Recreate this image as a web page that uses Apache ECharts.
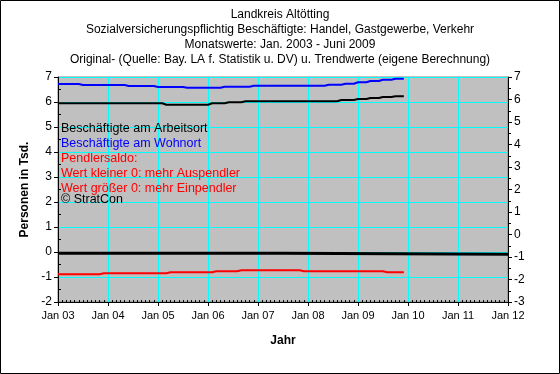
<!DOCTYPE html>
<html>
<head>
<meta charset="utf-8">
<script src="https://cdn.jsdelivr.net/npm/echarts@6/dist/echarts.min.js"></script>
<style>
html,body{margin:0;padding:0;background:#fff;}
#c{width:560px;height:374px;}
</style>
</head>
<body>
<div id="c"></div>
<script>
// Months: Jan 2003 .. Dec 2009 (84 monthly values), x in decimal years
const startYear = 2003;
const yearTicks = [2003, 2004, 2005, 2006, 2007, 2008, 2009, 2010, 2011, 2012];

// Beschäftigte am Wohnort (Tsd.)
const wohnort = [
  6.72,6.72,6.72,6.72,6.72,6.72,
  6.68,6.68,6.68,6.68,6.68,6.68,6.68,6.68,6.68,6.68,6.68,
  6.64,6.64,6.64,6.64,6.64,6.64,6.64,
  6.60,6.60,6.60,6.60,6.60,6.60,6.60,
  6.57,6.57,6.57,6.57,6.57,6.57,6.57,6.57,6.57,
  6.61,6.61,6.61,6.61,6.61,6.61,6.61,
  6.65,6.65,6.65,6.65,6.65,6.65,6.65,6.65,6.65,6.65,6.65,6.65,6.65,6.65,6.65,6.65,6.65,6.65,
  6.69,6.69,6.69,6.69,
  6.73,6.73,6.73,
  6.79,6.79,6.79,
  6.84,6.84,6.84,
  6.89,6.89,6.89,
  6.93,6.93,6.93
];

// Beschäftigte am Arbeitsort (Tsd.)
const arbeitsort = [
  5.95,5.95,5.95,5.95,5.95,5.95,5.95,5.95,5.95,5.95,5.95,5.95,5.95,
  5.95,5.95,5.95,5.95,5.95,5.95,5.95,5.95,5.95,5.95,5.95,5.95,5.95,
  5.89,5.89,5.89,5.89,5.89,5.89,5.89,5.89,5.89,5.89,5.89,
  5.95,5.95,5.95,5.95,
  5.99,5.99,5.99,5.99,
  6.03,6.03,6.03,6.03,6.03,6.03,6.03,6.03,6.03,6.03,6.03,6.03,
  6.03,6.03,6.03,6.03,6.03,6.03,6.03,6.03,6.03,6.03,6.03,
  6.08,6.08,6.08,6.08,
  6.12,6.12,6.12,
  6.16,6.16,6.16,
  6.20,6.20,6.20,
  6.23,6.23,6.23
];

// Pendlersaldo (Tsd.)
const pendlersaldo = [
  -0.89,-0.89,-0.89,-0.89,-0.89,-0.89,-0.89,-0.89,-0.89,-0.89,-0.89,
  -0.85,-0.85,-0.85,-0.85,-0.85,-0.85,-0.85,-0.85,-0.85,-0.85,-0.85,-0.85,-0.85,-0.85,-0.85,-0.85,
  -0.81,-0.81,-0.81,-0.81,-0.81,-0.81,-0.81,-0.81,-0.81,-0.81,-0.81,
  -0.77,-0.77,-0.77,-0.77,-0.77,-0.77,
  -0.73,-0.73,-0.73,-0.73,-0.73,-0.73,-0.73,-0.73,-0.73,-0.73,-0.73,-0.73,-0.73,-0.73,-0.73,
  -0.77,-0.77,-0.77,-0.77,-0.77,-0.77,-0.77,-0.77,-0.77,-0.77,
  -0.77,-0.77,-0.77,-0.77,-0.77,-0.77,-0.77,-0.77,-0.77,-0.77,
  -0.81,-0.81,-0.81,-0.81,-0.81
];

// Trend line of saldo near zero: [year, value]
const nullLinie = [[2003, -0.05], [2007.5, -0.05], [2007.5, -0.09], [2012, -0.09]];

const titleLines = [
  'Landkreis Altötting',
  'Sozialversicherungspflichtig Beschäftigte: Handel, Gastgewerbe, Verkehr',
  'Monatswerte: Jan. 2003 - Juni 2009',
  'Original- (Quelle: Bay. LA f. Statistik u. DV) u. Trendwerte (eigene Berechnung)'
];
const noteLines = [
  ['Beschäftigte am Arbeitsort', '#000000'],
  ['Beschäftigte am Wohnort', '#0000FF'],
  ['Pendlersaldo:', '#FF0000'],
  ['Wert kleiner 0: mehr Auspendler', '#FF0000'],
  ['Wert größer 0: mehr Einpendler', '#FF0000'],
  ['© StratCon', '#000000']
];

const toXY = arr => arr.map((v, m) => [startYear + m / 12, v]);
const FONT = '"Liberation Sans", Arial, sans-serif';

const chart = echarts.init(document.getElementById('c'), null, {renderer: 'canvas'});

const titleY = [15, 30, 45, 60];
const noteY = [129, 144, 159, 174, 189, 200];

const graphics = [
  {type: 'rect', shape: {x: 0.5, y: 0.5, width: 559, height: 373}, style: {fill: 'none', stroke: '#000', lineWidth: 1}, z: 100}
];
titleLines.forEach((t, i) => graphics.push({
  type: 'text', x: 280, y: titleY[i],
  style: {text: t, fill: '#000', font: '12px ' + FONT, align: 'center', verticalAlign: 'middle'}, z: 100
}));
noteLines.forEach((t, i) => graphics.push({
  type: 'text', x: 61, y: noteY[i],
  style: {text: t[0], fill: t[1], font: '12.5px ' + FONT, align: 'left', verticalAlign: 'middle'}, z: 100
}));

chart.setOption({
  animation: false,
  backgroundColor: '#fff',
  grid: {left: 58, right: 52, top: 77, bottom: 72, show: true, backgroundColor: '#C0C0C0', borderColor: '#808080', borderWidth: 1},
  xAxis: {
    type: 'value', min: 2003, max: 2012, interval: 1,
    name: 'Jahr', nameLocation: 'middle', nameGap: 33,
    nameTextStyle: {fontFamily: FONT, fontSize: 12, fontWeight: 'bold', color: '#000'},
    axisLine: {show: true, onZero: false, lineStyle: {color: '#000', width: 1}},
    axisTick: {show: true, length: 4, lineStyle: {color: '#000'}},
    minorTick: {show: true, splitNumber: 12, length: -2, lineStyle: {color: '#000'}},
    axisLabel: {margin: 8, fontFamily: FONT, fontSize: 11, color: '#000',
      formatter: v => 'Jan ' + String(Math.round(v) % 100).padStart(2, '0')},
    splitLine: {show: true, lineStyle: {color: '#00FFFF', width: 1}}
  },
  yAxis: [
    {
      type: 'value', min: -2, max: 7, interval: 1, position: 'left',
      name: 'Personen in Tsd.', nameLocation: 'middle', nameGap: 27,
      nameTextStyle: {fontFamily: FONT, fontSize: 12, fontWeight: 'bold', color: '#000'},
      axisLine: {show: true, lineStyle: {color: '#000'}},
      axisTick: {show: true, length: 4, lineStyle: {color: '#000'}},
      minorTick: {show: true, splitNumber: 2, length: -3, lineStyle: {color: '#000'}},
      axisLabel: {margin: 6, fontFamily: FONT, fontSize: 12, color: '#000'},
      splitLine: {show: true, lineStyle: {color: '#00FFFF', width: 1}}
    },
    {
      type: 'value', min: -3, max: 7, interval: 1, position: 'right',
      axisLine: {show: true, lineStyle: {color: '#000'}},
      axisTick: {show: true, length: 4, lineStyle: {color: '#000'}},
      minorTick: {show: true, splitNumber: 2, length: 3, lineStyle: {color: '#000'}},
      axisLabel: {margin: 6, fontFamily: FONT, fontSize: 12, color: '#000'},
      splitLine: {show: false}
    }
  ],
  series: [
    {name: 'Null', type: 'line', yAxisIndex: 0, data: nullLinie, showSymbol: false, symbol: 'none',
      lineStyle: {color: '#000', width: 3}, z: 3},
    {name: 'Beschäftigte am Wohnort', type: 'line', yAxisIndex: 0, data: toXY(wohnort), symbol: 'none',
      lineStyle: {color: '#0000FF', width: 2}, z: 4},
    {name: 'Beschäftigte am Arbeitsort', type: 'line', yAxisIndex: 0, data: toXY(arbeitsort), symbol: 'none',
      lineStyle: {color: '#000000', width: 2}, z: 4},
    {name: 'Pendlersaldo', type: 'line', yAxisIndex: 0, data: toXY(pendlersaldo), symbol: 'none',
      lineStyle: {color: '#FF0000', width: 2}, z: 4}
  ],
  graphic: graphics
});
</script>
</body>
</html>
